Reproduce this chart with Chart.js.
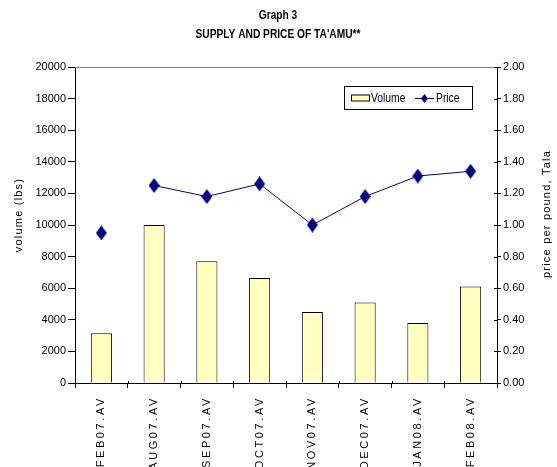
<!DOCTYPE html>
<html><head><meta charset="utf-8">
<script src="https://cdn.jsdelivr.net/npm/chart.js@4"></script>
<style>html,body{margin:0;padding:0;background:#fff;}canvas{display:block;}</style>
</head><body>
<canvas id="c" width="557" height="467"></canvas>
<script>
const categories = ['FEB07.AV','AUG07.AV','SEP07.AV','OCT07.AV','NOV07.AV','DEC07.AV','JAN08.AV','FEB08.AV'];
const volume = [3150, 10000, 7700, 6650, 4500, 5100, 3800, 6100];
const price = [0.95, 1.25, 1.18, 1.26, 1.00, 1.18, 1.31, 1.34];
const volumeAxis = {min: 0, max: 20000, step: 2000};
const priceAxis = {min: 0, max: 2, step: 0.2};
const titleLines = ['Graph 3', "SUPPLY AND PRICE OF TA'AMU**"];
const leftAxisTitle = 'volume (lbs)';
const rightAxisTitle = 'price per pound, Tala';
const seriesNames = ['Volume', 'Price'];

const BAR_FILL = '#FFFFC0';
const NAVY = '#000080';
const TICK_FONT = {family: '"Liberation Sans", Arial, sans-serif', size: 11};

function diamond(w, h, color) {
  const c = document.createElement('canvas');
  c.width = w; c.height = h;
  const x = c.getContext('2d');
  x.fillStyle = color;
  x.beginPath();
  x.moveTo(w / 2, 0); x.lineTo(w, h / 2); x.lineTo(w / 2, h); x.lineTo(0, h / 2);
  x.closePath(); x.fill();
  return c;
}
const marker = diamond(11, 15, NAVY);
const legendMarker = diamond(7, 9, NAVY);

function narrowText(ctx, text, x, y, sx) {
  ctx.save();
  ctx.translate(x, y);
  ctx.scale(sx, 1);
  ctx.fillText(text, 0, 0);
  ctx.restore();
}

const deco = {
  id: 'deco',
  beforeDraw(chart) { chart.ctx.letterSpacing = '0px'; },
  afterDatasetsDraw(chart) { chart.ctx.letterSpacing = '2.6px'; },
  afterDraw(chart) {
    const ctx = chart.ctx;
    const a = chart.chartArea;
    ctx.save();
    ctx.letterSpacing = '0px';
    // top border of plot area
    ctx.strokeStyle = '#808080';
    ctx.lineWidth = 1;
    ctx.beginPath();
    ctx.moveTo(a.left, Math.round(a.top) + 0.5);
    ctx.lineTo(a.right, Math.round(a.top) + 0.5);
    ctx.stroke();
    // inner tick marks on right axis and x axis
    ctx.strokeStyle = '#000';
    const y1 = chart.scales.y1;
    ctx.beginPath();
    y1.ticks.forEach((t, i) => {
      const py = Math.round(y1.getPixelForTick(i)) + 0.5;
      ctx.moveTo(a.right - 3, py); ctx.lineTo(a.right, py);
    });
    for (let i = 0; i <= categories.length; i++) {
      const px = Math.round(a.left + (a.right - a.left) * i / categories.length) + 0.5;
      ctx.moveTo(px, a.bottom - 2); ctx.lineTo(px, a.bottom);
    }
    ctx.stroke();

    // chart title
    ctx.fillStyle = '#000';
    ctx.font = 'bold 12px "Liberation Sans Narrow", "Liberation Sans", Arial, sans-serif';
    ctx.textAlign = 'center';
    ctx.textBaseline = 'middle';
    narrowText(ctx, titleLines[0], 278, 16, 0.85);
    narrowText(ctx, titleLines[1], 278, 35, 0.85);

    // axis titles
    ctx.font = '11px "Liberation Sans", Arial, sans-serif';
    ctx.letterSpacing = '1.2px';
    ctx.save();
    ctx.translate(19, 215);
    ctx.rotate(-Math.PI / 2);
    ctx.fillText(leftAxisTitle, 0, 0);
    ctx.restore();
    ctx.save();
    ctx.translate(547, 214);
    ctx.rotate(-Math.PI / 2);
    ctx.fillText(rightAxisTitle, 0, 0);
    ctx.restore();
    ctx.letterSpacing = '0px';

    // legend
    const lx = 344, ly = 86, lw = 128, lh = 23;
    ctx.fillStyle = '#fff';
    ctx.fillRect(lx, ly, lw, lh);
    ctx.strokeStyle = '#000';
    ctx.strokeRect(lx + 0.5, ly + 0.5, lw, lh);
    const cy = Math.round(ly + lh / 2) + 0.5;
    ctx.fillStyle = BAR_FILL;
    ctx.fillRect(351, cy - 3.5, 18, 6);
    ctx.strokeRect(351.5, cy - 3.5, 18, 6);
    ctx.fillStyle = '#000';
    ctx.font = '12px "Liberation Sans", Arial, sans-serif';
    ctx.textAlign = 'left';
    narrowText(ctx, seriesNames[0], 371, cy, 0.86);
    ctx.strokeStyle = NAVY;
    ctx.beginPath();
    ctx.moveTo(415, cy); ctx.lineTo(434, cy);
    ctx.stroke();
    ctx.drawImage(legendMarker, 424.5 - 3.5, cy - 4.5);
    narrowText(ctx, seriesNames[1], 436, cy, 0.86);
    ctx.restore();
  }
};

new Chart(document.getElementById('c'), {
  data: {
    labels: categories,
    datasets: [
      {
        type: 'line', label: seriesNames[1], data: price, yAxisID: 'y1', order: 0,
        borderColor: NAVY, borderWidth: 1, pointStyle: marker,
        pointBackgroundColor: NAVY, pointBorderColor: NAVY, tension: 0,
        segment: { borderColor: ctx => ctx.p0DataIndex === 0 ? 'rgba(0,0,0,0)' : NAVY }
      },
      {
        type: 'bar', label: seriesNames[0], data: volume, yAxisID: 'y', order: 1,
        backgroundColor: BAR_FILL, borderColor: '#000', borderWidth: 1,
        borderSkipped: 'bottom', barPercentage: 0.4, categoryPercentage: 1
      }
    ]
  },
  options: {
    responsive: false, animation: false, devicePixelRatio: 1,
    layout: { padding: { top: 67, left: 0, right: 0, bottom: 0 } },
    plugins: { legend: { display: false }, title: { display: false }, tooltip: { enabled: false } },
    scales: {
      x: {
        offset: true,
        grid: { offset: true, drawOnChartArea: false, drawTicks: true, tickLength: 5, color: '#000' },
        border: { display: true, color: '#000' },
        ticks: { z: 1, minRotation: 90, maxRotation: 90, autoSkip: false, padding: 8, color: '#000', font: TICK_FONT },
        afterFit(s) { s.height = 84; }
      },
      y: {
        position: 'left', min: volumeAxis.min, max: volumeAxis.max,
        grid: { drawOnChartArea: false, tickLength: 7, color: '#000' },
        border: { display: true, color: '#000' },
        ticks: { stepSize: volumeAxis.step, padding: 2, color: '#000', font: TICK_FONT,
                 callback: v => String(v) },
        afterFit(s) { s.width = 75; }
      },
      y1: {
        position: 'right', min: priceAxis.min, max: priceAxis.max,
        grid: { drawOnChartArea: false, tickLength: 4, color: '#000' },
        border: { display: true, color: '#000' },
        ticks: { stepSize: priceAxis.step, padding: 2, color: '#000', font: TICK_FONT,
                 callback: v => Number(v).toFixed(2) },
        afterFit(s) { s.width = 60; }
      }
    }
  },
  plugins: [deco]
});
</script>
</body></html>
